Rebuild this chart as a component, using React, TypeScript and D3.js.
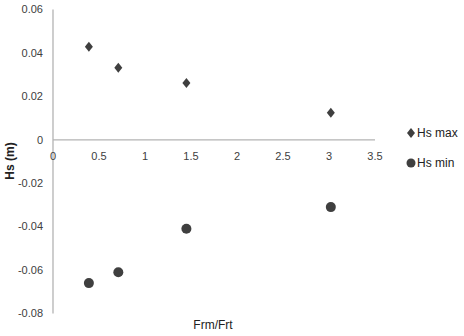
import React from "react";
import * as d3 from "d3";

const ratioValues = [0.39, 0.71, 1.45, 3.02];
const hsMaxValues = [0.0428, 0.0332, 0.0262, 0.0125];
const hsMinValues = [-0.066, -0.061, -0.041, -0.031];
const xTicks = [0, 0.5, 1, 1.5, 2, 2.5, 3, 3.5];
const yTicks = [0.06, 0.04, 0.02, 0, -0.02, -0.04, -0.06, -0.08];
const yTickLabels = ["0.06", "0.04", "0.02", "0", "-0.02", "-0.04", "-0.06", "-0.08"];
const seriesNames = ["Hs max", "Hs min"];

const FONT = "'Liberation Sans', Arial, sans-serif";

export default function App() {
  const x = d3.scaleLinear().domain([0, 3.5]).range([53, 375]);
  const y = d3.scaleLinear().domain([-0.08, 0.06]).range([313.5, 9.5]);
  const color = "#3f3f3f";
  const axisColor = "#b3b3b3";
  const diamond = (cx: number, cy: number) =>
    `M${cx},${cy - 5} L${cx + 4},${cy} L${cx},${cy + 5} L${cx - 4},${cy} Z`;

  return (
    <svg width={464} height={336} style={{ position: "absolute", left: 0, top: 0, background: "#fff" }}>
      {/* axes */}
      <line x1={x(0)} x2={x(0)} y1={y(0.06)} y2={y(-0.08)} stroke={axisColor} strokeWidth={1.3} />
      <line x1={x(0)} x2={x(3.5)} y1={y(0)} y2={y(0)} stroke={axisColor} strokeWidth={1.3} />
      {yTicks.map((t, i) => (
        <text key={"y" + i} x={43} y={y(t)} dy="0.35em" textAnchor="end" fontFamily={FONT} fontSize={11} fill="#404040">
          {yTickLabels[i]}
        </text>
      ))}
      {xTicks.map((t, i) => (
        <text key={"x" + i} x={x(t)} y={y(0) + 20} textAnchor="middle" fontFamily={FONT} fontSize={11} fill="#404040">
          {String(t)}
        </text>
      ))}
      {/* points */}
      {ratioValues.map((r, i) => (
        <path key={"mx" + i} d={diamond(x(r), y(hsMaxValues[i]))} fill={color} />
      ))}
      {ratioValues.map((r, i) => (
        <circle key={"mn" + i} cx={x(r)} cy={y(hsMinValues[i])} r={5} fill={color} />
      ))}
      {/* axis titles */}
      <text
        transform={`translate(14,${161}) rotate(-90)`}
        textAnchor="middle"
        fontFamily={FONT}
        fontSize={12}
        fontWeight="bold"
        fill="#222"
      >
        Hs (m)
      </text>
      <text x={213} y={329} textAnchor="middle" fontFamily={FONT} fontSize={12} fill="#222">
        Frm/Frt
      </text>
      {/* legend */}
      <path d={diamond(411, 133)} fill={color} />
      <text x={417} y={133} dy="0.35em" fontFamily={FONT} fontSize={12} fill="#222">
        {seriesNames[0]}
      </text>
      <circle cx={411} cy={163} r={4.5} fill={color} />
      <text x={417} y={163} dy="0.35em" fontFamily={FONT} fontSize={12} fill="#222">
        {seriesNames[1]}
      </text>
    </svg>
  );
}
